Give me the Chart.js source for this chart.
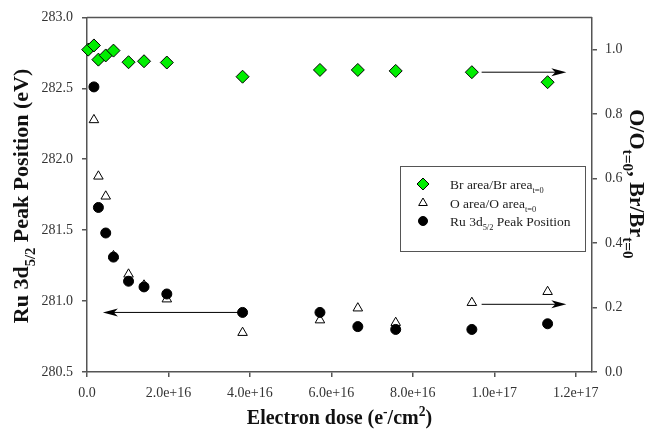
<!DOCTYPE html>
<html>
<head>
<meta charset="utf-8">
<script src="https://cdn.jsdelivr.net/npm/chart.js@4/dist/chart.umd.min.js"></script>
<style>
  html, body { margin: 0; padding: 0; background: #fff; }
  #wrap { width: 648px; height: 430px; }
</style>
</head>
<body>
<div id="wrap"><canvas id="chart" width="648" height="430"></canvas></div>
<script>
'use strict';
// electron dose (e-/cm2) of each spectrum
var dose = [0.03e16, 0.17e16, 0.28e16, 0.46e16, 0.65e16, 1.02e16, 1.40e16, 1.96e16, 3.82e16, 5.72e16, 6.65e16, 7.58e16, 9.45e16, 1.131e17];
// Br area / Br area(t=0), right axis
var brArea = [1.0, 1.013, 0.969, 0.982, 0.997, 0.961, 0.964, 0.960, 0.916, 0.937, 0.937, 0.934, 0.930, 0.899];
// O area / O area(t=0), right axis (no point at the first dose)
var oArea = [0.782, 0.607, 0.545, 0.36, 0.303, 0.269, 0.226, 0.122, 0.161, 0.198, 0.153, 0.215, 0.249];
// Ru 3d5/2 peak position (eV), left axis
var ruPeak = [282.51, 281.66, 281.48, 281.31, 281.14, 281.10, 281.05, 280.92, 280.92, 280.82, 280.80, 280.80, 280.84];

var xTicks = [0, 2e16, 4e16, 6e16, 8e16, 1e17, 1.2e17];
var leftTicks = [280.5, 281.0, 281.5, 282.0, 282.5, 283.0];
var rightTicks = [0, 0.2, 0.4, 0.6, 0.8, 1.0];

// arrows pointing at the axis each series belongs to
var arrows = [
  {from: 3.72e16, to: 0.39e16, y: 280.92, axis: 'y'},
  {from: 9.69e16, to: 1.177e17, y: 0.930, axis: 'y1'},
  {from: 9.69e16, to: 1.177e17, y: 0.21, axis: 'y1'}
];

var FONT = '"Liberation Serif", "Times New Roman", serif';
var LINE = '#555';
var GREEN = '#00ee00';

function pairs(xs, ys) {
  return ys.map((v, i) => ({x: xs[i], y: v}));
}

// text with sub (1) / superscript (2) pieces
function richText(ctx, parts, x, y, size, bold, align, ratio) {
  let font = s => (bold ? 'bold ' : '') + s + 'px ' + FONT;
  let small = size * (ratio || 0.62);
  let w = 0;
  parts.forEach(p => {
    ctx.font = font(p[1] ? small : size);
    w += ctx.measureText(p[0]).width;
  });
  let cx = align === 'center' ? x - w / 2 : x;
  parts.forEach(p => {
    ctx.font = font(p[1] ? small : size);
    let dy = p[1] === 1 ? size * 0.3 : (p[1] === 2 ? -size * 0.42 : 0);
    ctx.fillText(p[0], cx, y + dy);
    cx += ctx.measureText(p[0]).width;
  });
}

var decorations = {
  id: 'decorations',
  afterDraw(chart) {
    let ctx = chart.ctx;
    let a = chart.chartArea;
    ctx.save();
    // top frame line
    ctx.strokeStyle = LINE;
    ctx.lineWidth = 1.5;
    ctx.beginPath();
    ctx.moveTo(a.left, a.top);
    ctx.lineTo(a.right, a.top);
    ctx.stroke();

    // arrows
    ctx.strokeStyle = '#000';
    ctx.fillStyle = '#000';
    ctx.lineWidth = 1;
    arrows.forEach(ar => {
      let x0 = chart.scales.x.getPixelForValue(ar.from);
      let x1 = chart.scales.x.getPixelForValue(ar.to);
      let y = chart.scales[ar.axis].getPixelForValue(ar.y);
      let dir = x1 > x0 ? 1 : -1;
      ctx.beginPath();
      ctx.moveTo(x0, y);
      ctx.lineTo(x1 - dir * 8, y);
      ctx.stroke();
      ctx.beginPath();
      ctx.moveTo(x1, y);
      ctx.lineTo(x1 - dir * 15, y - 4);
      ctx.lineTo(x1 - dir * 11, y);
      ctx.lineTo(x1 - dir * 15, y + 4);
      ctx.closePath();
      ctx.fill();
    });

    // legend
    let lx = 400, ly = 166, lw = 185, lh = 85;
    ctx.fillStyle = '#fff';
    ctx.fillRect(lx, ly, lw, lh);
    ctx.strokeStyle = LINE;
    ctx.lineWidth = 1;
    ctx.strokeRect(lx + 0.5, ly + 0.5, lw, lh);
    let rows = [
      {ds: 0, y: 184, text: [['Br area/Br area', 0], ['t=0', 1]]},
      {ds: 2, y: 203, text: [['O area/O area', 0], ['t=0', 1]]},
      {ds: 1, y: 221, text: [['Ru 3d', 0], ['5/2', 1], [' Peak Position', 0]]}
    ];
    rows.forEach(r => {
      let d = chart.data.datasets[r.ds];
      ctx.fillStyle = d.backgroundColor;
      ctx.strokeStyle = d.borderColor;
      ctx.lineWidth = d.borderWidth;
      Chart.helpers.drawPoint(ctx, {
        pointStyle: d.pointStyle, radius: d.pointRadius - 0.5, rotation: 0, borderWidth: d.borderWidth
      }, 423, r.y);
      ctx.fillStyle = '#222';
      ctx.textBaseline = 'alphabetic';
      richText(ctx, r.text, 450, r.y + 4.5, 13.5, false, 'left');
    });

    // axis titles
    ctx.fillStyle = '#111';
    richText(ctx, [['Electron dose (e', 0], ['-', 2], ['/cm', 0], ['2', 2], [')', 0]],
      (a.left + a.right) / 2, 424, 20, true, 'center', 0.68);

    ctx.save();
    ctx.translate(28, 196);
    ctx.rotate(-Math.PI / 2);
    richText(ctx, [['Ru 3d', 0], ['5/2', 1], [' Peak Position (eV)', 0]], 0, 0, 22, true, 'center', 0.66);
    ctx.restore();

    ctx.save();
    ctx.translate(630, 184);
    ctx.rotate(Math.PI / 2);
    richText(ctx, [['O/O', 0], ['t=0', 1], [', Br/Br', 0], ['t=0', 1]], 0, 0, 22, true, 'center', 0.7);
    ctx.restore();

    ctx.restore();
  }
};

function fixedTicks(list) {
  return function (axis) {
    axis.ticks = list.map(v => ({value: v}));
  };
}

var gridStyle = {drawOnChartArea: false, drawTicks: true, tickLength: 5, color: LINE, lineWidth: 1.5};
var tickFont = {family: FONT, size: 14};

new Chart(document.getElementById('chart'), {
  type: 'scatter',
  data: {
    datasets: [
      {
        label: 'Br area/Br area t=0',
        data: pairs(dose, brArea),
        yAxisID: 'y1',
        pointStyle: 'rectRot',
        pointRadius: 6.5,
        backgroundColor: GREEN,
        borderColor: '#000',
        borderWidth: 1,
        clip: false
      },
      {
        label: 'Ru 3d5/2 Peak Position',
        data: pairs(dose.slice(1), ruPeak),
        yAxisID: 'y',
        pointStyle: 'circle',
        pointRadius: 5,
        backgroundColor: '#000',
        borderColor: '#000',
        borderWidth: 1,
        clip: false
      },
      {
        label: 'O area/O area t=0',
        data: pairs(dose.slice(1), oArea),
        yAxisID: 'y1',
        pointStyle: 'triangle',
        pointRadius: 5.5,
        backgroundColor: '#fff',
        borderColor: '#000',
        borderWidth: 1,
        clip: false
      }
    ]
  },
  options: {
    responsive: false,
    animation: false,
    layout: {padding: {top: 17, left: 0, right: 0, bottom: 0}},
    plugins: {legend: {display: false}, tooltip: {enabled: false}},
    scales: {
      x: {
        type: 'linear',
        position: 'bottom',
        min: 0,
        max: 1.24e17,
        afterBuildTicks: fixedTicks(xTicks),
        afterFit: s => { s.height = 58; },
        grid: gridStyle,
        border: {color: LINE, width: 1.5},
        ticks: {
          font: tickFont, color: '#333', padding: 8, maxRotation: 0,
          callback: v => v === 0 ? '0.0' : v.toExponential(1)
        }
      },
      y: {
        type: 'linear',
        position: 'left',
        min: 280.5,
        max: 283.0,
        afterBuildTicks: fixedTicks(leftTicks),
        afterFit: s => { s.width = 87; },
        grid: gridStyle,
        border: {color: LINE, width: 1.5},
        ticks: {font: tickFont, color: '#333', padding: 9, callback: v => v.toFixed(1)}
      },
      y1: {
        type: 'linear',
        position: 'right',
        min: 0,
        max: 1.1,
        afterBuildTicks: fixedTicks(rightTicks),
        afterFit: s => { s.width = 56; },
        grid: gridStyle,
        border: {color: LINE, width: 1.5},
        ticks: {font: tickFont, color: '#333', padding: 8, callback: v => v.toFixed(1)}
      }
    }
  },
  plugins: [decorations]
});
</script>
</body>
</html>
